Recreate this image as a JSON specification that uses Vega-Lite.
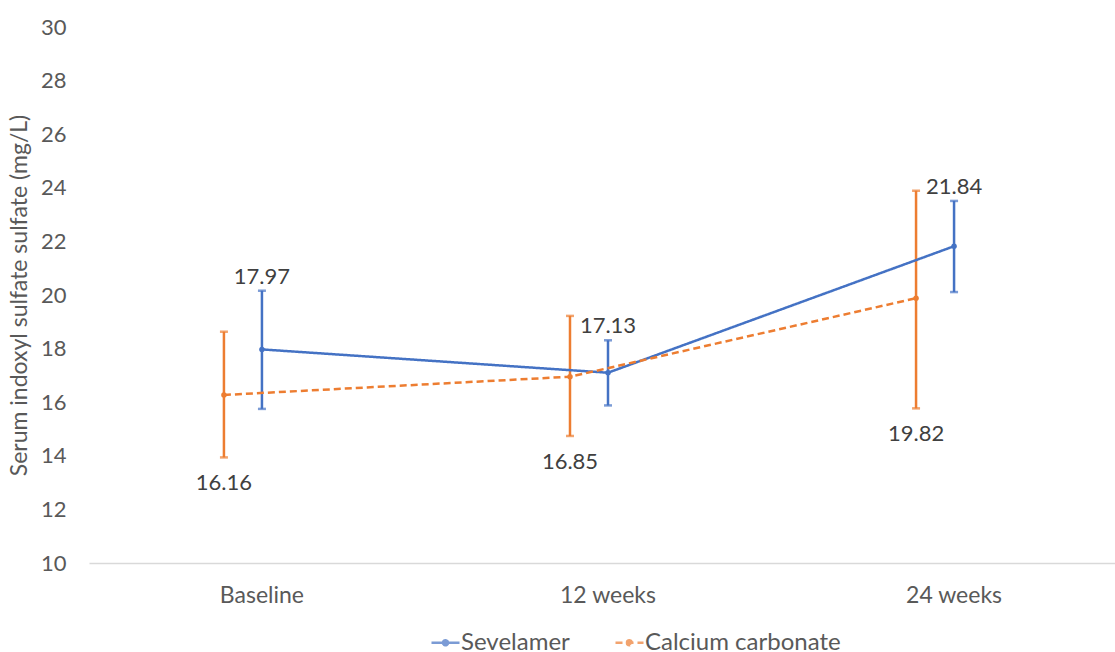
{
  "$schema": "https://vega.github.io/schema/vega-lite/v6.json",
  "width": 1024,
  "height": 536,
  "autosize": {"type": "none"},
  "padding": {"left": 89, "top": 27, "right": 2, "bottom": 89},
  "background": "white",
  "config": {
    "view": {"stroke": null},
    "font": "Lato",
    "text": {"font": "Lato"}
  },
  "data": {
    "values": [
      {"time": "Baseline", "series": "Sevelamer", "mean": 17.97, "lower": 15.75, "upper": 20.16, "label": "17.97"},
      {"time": "12 weeks", "series": "Sevelamer", "mean": 17.1, "lower": 15.88, "upper": 18.31, "label": "17.13"},
      {"time": "24 weeks", "series": "Sevelamer", "mean": 21.82, "lower": 20.11, "upper": 23.51, "label": "21.84"},
      {"time": "Baseline", "series": "Calcium carbonate", "mean": 16.27, "lower": 13.94, "upper": 18.63, "label": "16.16"},
      {"time": "12 weeks", "series": "Calcium carbonate", "mean": 16.95, "lower": 14.74, "upper": 19.22, "label": "16.85"},
      {"time": "24 weeks", "series": "Calcium carbonate", "mean": 19.88, "lower": 15.77, "upper": 23.89, "label": "19.82"}
    ]
  },
  "encoding": {
    "x": {
      "field": "time",
      "type": "nominal",
      "sort": ["Baseline", "12 weeks", "24 weeks"],
      "scale": {"range": [0, 1038], "paddingInner": 0.6705, "paddingOuter": 0.335},
      "axis": {
        "title": null,
        "labelAngle": 0,
        "domainColor": "#d9d9d9",
        "domainWidth": 1.3,
        "ticks": false,
        "grid": false,
        "labelFont": "Lato",
        "labelFontSize": 23,
        "labelColor": "#595959",
        "labelPadding": 21
      }
    },
    "xOffset": {
      "field": "series",
      "type": "nominal",
      "scale": {"domain": ["Calcium carbonate", "Sevelamer", "pad"], "paddingInner": 0, "paddingOuter": 0}
    },
    "color": {
      "field": "series",
      "type": "nominal",
      "scale": {"domain": ["Sevelamer", "Calcium carbonate"], "range": ["#4472C4", "#ED7D31"]},
      "legend": {
        "title": null,
        "orient": "none",
        "direction": "horizontal",
        "legendX": 341,
        "legendY": 600,
        "labelFont": "Lato",
        "labelFontSize": 24,
        "labelColor": "#595959",
        "labelLimit": 400,
        "labelOffset": 0,
        "columnPadding": 40,
        "symbolType": "M-1,0L1,0M-0.18,0A0.18,0.18,0,1,1,0.18,0A0.18,0.18,0,1,1,-0.18,0",
        "symbolSize": 784,
        "symbolStrokeWidth": 2.5
      }
    }
  },
  "layer": [
    {
      "mark": {"type": "rule", "strokeWidth": 2.5},
      "encoding": {
        "y": {"field": "lower", "type": "quantitative", "scale": {"domain": [10, 30], "nice": false, "zero": false}},
        "y2": {"field": "upper"}
      }
    },
    {
      "mark": {"type": "tick", "size": 8, "thickness": 2.5},
      "encoding": {"y": {"field": "upper", "type": "quantitative", "scale": {"domain": [10, 30], "nice": false, "zero": false}}}
    },
    {
      "mark": {"type": "tick", "size": 8, "thickness": 2.5},
      "encoding": {"y": {"field": "lower", "type": "quantitative", "scale": {"domain": [10, 30], "nice": false, "zero": false}}}
    },
    {
      "mark": {"type": "line", "strokeWidth": 2.5},
      "encoding": {
        "y": {
          "field": "mean",
          "type": "quantitative",
          "scale": {"domain": [10, 30], "nice": false, "zero": false},
          "axis": {
            "title": "Serum indoxyl sulfate sulfate (mg/L)",
            "values": [10, 12, 14, 16, 18, 20, 22, 24, 26, 28, 30],
            "domain": false,
            "ticks": false,
            "grid": false,
            "labelFont": "Lato",
            "labelFontSize": 22,
            "labelColor": "#595959",
            "labelPadding": 23,
            "titleFont": "Lato",
            "titleFontSize": 23,
            "titleFontWeight": "normal",
            "titleColor": "#595959",
            "titlePadding": 9
          }
        },
        "strokeDash": {
          "field": "series",
          "type": "nominal",
          "scale": {"domain": ["Sevelamer", "Calcium carbonate"], "range": [[1, 0], [7, 4]]},
          "legend": null
        }
      }
    },
    {
      "mark": {"type": "point", "filled": true, "size": 30, "opacity": 1},
      "encoding": {"y": {"field": "mean", "type": "quantitative", "scale": {"domain": [10, 30], "nice": false, "zero": false}}}
    },
    {
      "transform": [{"filter": "datum.series === 'Sevelamer'"}],
      "mark": {"type": "text", "dy": -14, "fontSize": 22, "baseline": "middle"},
      "encoding": {
        "y": {"field": "upper", "type": "quantitative", "scale": {"domain": [10, 30], "nice": false, "zero": false}},
        "text": {"field": "label"},
        "color": {"value": "#404040"}
      }
    },
    {
      "transform": [{"filter": "datum.series === 'Calcium carbonate'"}],
      "mark": {"type": "text", "dy": 26, "fontSize": 22, "baseline": "middle"},
      "encoding": {
        "y": {"field": "lower", "type": "quantitative", "scale": {"domain": [10, 30], "nice": false, "zero": false}},
        "text": {"field": "label"},
        "color": {"value": "#404040"}
      }
    }
  ]
}
